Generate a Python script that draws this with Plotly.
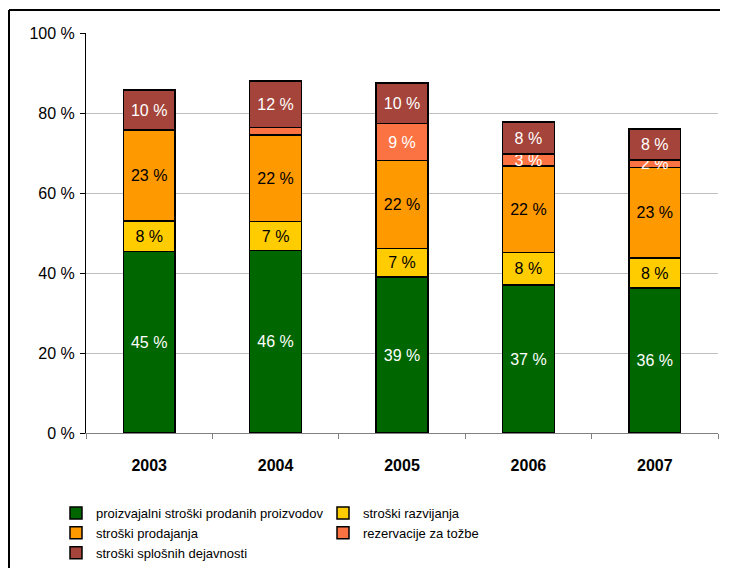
import plotly.graph_objects as go

years = ["2003", "2004", "2005", "2006", "2007"]

series_names = [
    "proizvajalni stroški prodanih proizvodov",
    "stroški razvijanja",
    "stroški prodajanja",
    "rezervacije za tožbe",
    "stroški splošnih dejavnosti",
]
proizvajalni = [45.4, 45.6, 39.0, 37.0, 36.2]
razvijanja = [7.6, 7.3, 7.1, 8.1, 7.6]
prodajanja = [22.7, 21.6, 22.0, 21.6, 22.6]
rezervacije = [0.0, 1.9, 9.3, 3.0, 1.9]
splosnih = [10.0, 11.6, 10.1, 8.0, 7.7]
# which rezervacije labels are printed in the original
rezervacije_label_shown = [False, False, True, True, True]

y_ticks = [0, 20, 40, 60, 80, 100]
y_tick_labels = ["0 %", "20 %", "40 %", "60 %", "80 %", "100 %"]

colors = ["#006600", "#FFCC00", "#FF9900", "#FB7342", "#A5443A"]
text_colors = ["white", "black", "black", "white", "white"]

FONT = "Liberation Sans, Arial, sans-serif"


def labels(vals, shown=None):
    out = []
    for i, v in enumerate(vals):
        if shown is not None and not shown[i]:
            out.append("")
        elif v <= 0:
            out.append("")
        else:
            out.append(f"{round(v)} %")
    return out


all_vals = [proizvajalni, razvijanja, prodajanja, rezervacije, splosnih]
all_labels = [
    labels(proizvajalni),
    labels(razvijanja),
    labels(prodajanja),
    labels(rezervacije, rezervacije_label_shown),
    labels(splosnih),
]

fig = go.Figure()
for name, vals, lab, c, tc in zip(series_names, all_vals, all_labels, colors, text_colors):
    fig.add_trace(go.Bar(
        name=name,
        x=years,
        y=vals,
        text=lab,
        textposition="inside",
        insidetextanchor="middle",
        textangle=0,
        textfont=dict(family=FONT, size=16, color=tc),
        marker=dict(color=c, line=dict(color="black", width=1.5)),
        hoverinfo="skip",
    ))

# page has an 8px body margin; figure coordinates = page coordinates - 8
W, H = 712, 560
plot_l, plot_r, plot_t, plot_b = 78, 710, 25, 425
pw, ph = plot_r - plot_l, plot_b - plot_t

frame_x = (1 - plot_l) / pw
frame_y = (plot_b - 2) / ph

fig.update_layout(
    width=W, height=H,
    margin=dict(l=plot_l, r=W - plot_r, t=plot_t, b=H - plot_b, pad=0, autoexpand=False),
    barmode="stack",
    bargap=0.59,
    plot_bgcolor="white",
    paper_bgcolor="white",
    font=dict(family=FONT, size=13, color="black"),
    uniformtext=dict(mode="show", minsize=16),
    showlegend=True,
    legend=dict(
        orientation="h",
        x=(48 - plot_l) / pw, xanchor="left",
        y=(plot_b - 490) / ph, yanchor="top",
        entrywidth=222,
        traceorder="normal",
        font=dict(family=FONT, size=13, color="black"),
        itemclick=False,
        bgcolor="rgba(0,0,0,0)",
    ),
    xaxis=dict(
        type="category",
        showline=True, linecolor="#808080", linewidth=1,
        ticks="outside", tickson="boundaries", ticklen=5, tickcolor="#808080",
        tickfont=dict(family=FONT, size=16, color="black", weight="bold"),
        ticklabelstandoff=18,
        showgrid=False,
    ),
    yaxis=dict(
        range=[0, 100],
        tickvals=y_ticks, ticktext=y_tick_labels,
        showline=True, linecolor="black", linewidth=1,
        ticks="outside", ticklen=5, tickcolor="black",
        tickfont=dict(family=FONT, size=16, color="black"),
        ticklabelstandoff=2,
        showgrid=True, gridcolor="#BFBFBF", gridwidth=1,
        zeroline=False,
    ),
    shapes=[
        dict(type="line", xref="paper", yref="paper",
             x0=frame_x, x1=1.05, y0=frame_y, y1=frame_y,
             line=dict(color="black", width=2)),
        dict(type="line", xref="paper", yref="paper",
             x0=frame_x, x1=frame_x, y0=-0.5, y1=frame_y,
             line=dict(color="black", width=2)),
    ],
)

fig.write_html("out.html")
